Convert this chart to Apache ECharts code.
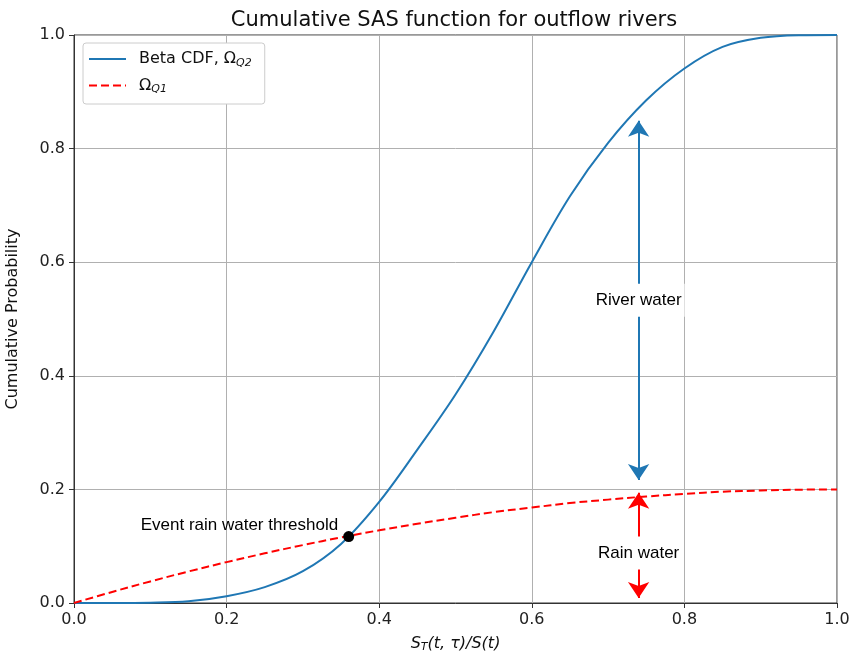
<!DOCTYPE html>
<html>
<head>
<meta charset="utf-8">
<script src="https://cdn.jsdelivr.net/npm/echarts@6/dist/echarts.min.js"></script>
<style>html,body{margin:0;padding:0;background:#fff}#c{width:853px;height:658px}</style>
</head>
<body>
<div id="c"></div>
<script>
// ---- data ----
const xs =        [0, 0.05, 0.1, 0.15, 0.2, 0.25, 0.3, 0.35, 0.4, 0.45, 0.5, 0.55, 0.6, 0.65, 0.7, 0.75, 0.8, 0.85, 0.9, 0.95, 1.0];
const betaCdf =   [0, 0.0, 0.0005, 0.003, 0.012, 0.028, 0.056, 0.104, 0.178, 0.27, 0.367, 0.478, 0.6, 0.716, 0.81, 0.885, 0.941, 0.979, 0.995, 0.9995, 1.0];
const omegaQ1 =   [0, 0.0195, 0.038, 0.0555, 0.072, 0.0875, 0.102, 0.1155, 0.128, 0.1395, 0.15, 0.16, 0.168, 0.176, 0.182, 0.1875, 0.192, 0.196, 0.198, 0.1995, 0.2];
const tickLabels = ['0.0', '0.2', '0.4', '0.6', '0.8', '1.0'];
const thresholdPoint = [0.36, 0.117];
const arrowX = 0.74;
const riverArrow = [0.2165, 0.849];
const rainArrow = [0.194, 0.009];
const riverLabelY = 0.533;
const rainLabelY = 0.088;

const chart = echarts.init(document.getElementById('c'));
const font = 'DejaVu Sans';
const labelFont = 'Liberation Sans';
const axisCommon = {
  type: 'value', min: 0, max: 1, interval: 0.2,
  axisLine: { show: true, lineStyle: { color: '#333', width: 1 } },
  axisTick: { show: true, inside: false, length: 5, lineStyle: { color: '#333' } },
  axisLabel: { color: '#222', fontSize: 16, fontFamily: font, margin: 9, formatter: v => tickLabels[Math.round(v / 0.2)] },
  splitLine: { show: true, lineStyle: { color: '#b0b0b0', width: 1 } }
};
chart.setOption({
  animation: false,
  backgroundColor: '#fff',
  title: {
    text: 'Cumulative SAS function for outflow rivers',
    left: 449, top: 5, textAlign: 'center',
    textStyle: { fontFamily: font, fontSize: 21, fontWeight: 'normal', color: '#111' }
  },
  grid: { left: 74, right: 16, top: 35, bottom: 55, show: true, borderColor: '#333', borderWidth: 1, outerBoundsMode: 'none', containLabel: false },
  legend: {
    orient: 'vertical', left: 83, top: 43,
    backgroundColor: '#fff', borderColor: '#ccc', borderWidth: 1, borderRadius: 3,
    padding: [8, 13, 9, 5], itemGap: 9, itemWidth: 37, itemHeight: 12,
    itemStyle: { opacity: 0, color: 'rgba(0,0,0,0)', borderWidth: 0 },
    data: ['beta', 'omega'],
    formatter: n => n === 'beta' ? '{t|Beta CDF, Ω}{s|Q2}' : '{t|Ω}{s|Q1}',
    textStyle: {
      fontFamily: font, fontSize: 16, color: '#111',
      rich: {
        t: { fontFamily: font, fontSize: 16, color: '#111', padding: [0, 0, 0, 8] },
        s: { fontFamily: font, fontSize: 11, fontStyle: 'italic', color: '#111', padding: [8, 0, 0, 0] }
      }
    }
  },
  xAxis: Object.assign({}, axisCommon, {
    name: '{i|S}{s|T}{i|(t, τ)/S(t)}', nameLocation: 'middle', nameGap: 31,
    nameTextStyle: {
      rich: {
        i: { fontFamily: font, fontSize: 16, fontStyle: 'italic', color: '#111' },
        s: { fontFamily: font, fontSize: 11, fontStyle: 'italic', color: '#111', padding: [8, 0, 0, 0] }
      }
    }
  }),
  yAxis: Object.assign({}, axisCommon, {
    name: 'Cumulative Probability', nameLocation: 'middle', nameGap: 53, nameRotate: 90,
    nameTextStyle: { fontFamily: font, fontSize: 16, color: '#111' }
  }),
  series: [
    {
      name: 'beta', type: 'line', smooth: 0.35, symbol: 'none', z: 3,
      data: xs.map((x, i) => [x, betaCdf[i]]),
      lineStyle: { color: '#1f77b4', width: 2 }, itemStyle: { color: '#1f77b4' }
    },
    {
      name: 'omega', type: 'line', smooth: 0.35, symbol: 'none', z: 3,
      data: xs.map((x, i) => [x, omegaQ1[i]]),
      lineStyle: { color: '#ff0000', width: 2, type: [8, 4] }, itemStyle: { color: '#ff0000' }
    },
    {
      name: 'arrows', type: 'line', data: [], z: 4, silent: true,
      markLine: {
        silent: true, symbol: ['arrow', 'arrow'], symbolSize: 16,
        label: { show: false },
        data: [
          [{ coord: [arrowX, riverArrow[0]], lineStyle: { color: '#1f77b4', width: 2, type: 'solid' }, itemStyle: { color: '#1f77b4' } },
           { coord: [arrowX, riverArrow[1]] }],
          [{ coord: [arrowX, rainArrow[0]], lineStyle: { color: '#ff0000', width: 2, type: 'solid' }, itemStyle: { color: '#ff0000' } },
           { coord: [arrowX, rainArrow[1]] }]
        ]
      }
    },
    {
      name: 'labels', type: 'scatter', z: 6, symbolSize: 0, silent: true,
      data: [[arrowX, riverLabelY, 'River water'], [arrowX, rainLabelY, 'Rain water']],
      itemStyle: { opacity: 1 },
      label: {
        show: true, position: 'inside', formatter: p => p.data[2],
        fontFamily: labelFont, fontSize: 17, color: '#000',
        backgroundColor: '#fff', padding: [8, 3, 8, 3]
      }
    },
    {
      name: 'threshold', type: 'scatter', z: 7, symbolSize: 11, silent: true,
      data: [thresholdPoint],
      itemStyle: { color: '#000', opacity: 1 },
      label: {
        show: true, position: 'left', distance: 5, offset: [0, -11],
        formatter: 'Event rain water threshold',
        fontFamily: labelFont, fontSize: 17, color: '#000'
      }
    }
  ]
});
</script>
</body>
</html>
